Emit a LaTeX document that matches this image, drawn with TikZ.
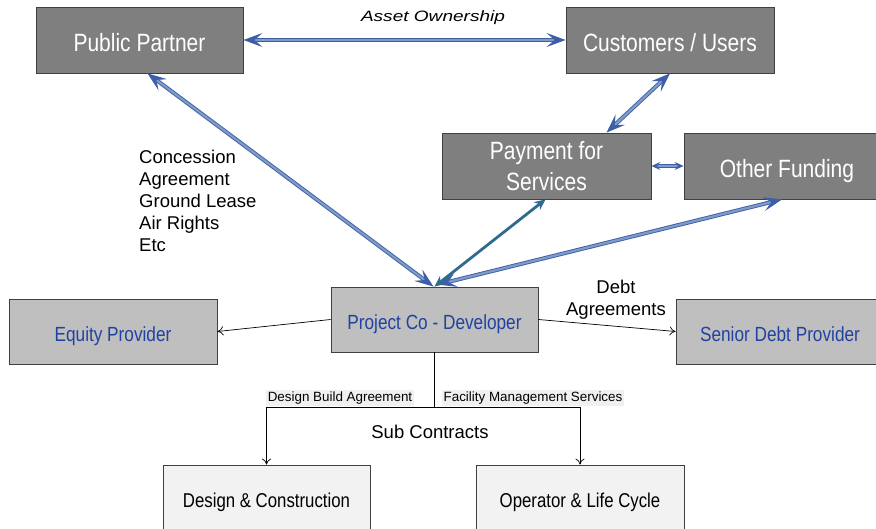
\documentclass[tikz,border=0pt]{standalone}
\usepackage{fontspec}
\setmainfont{Liberation Sans}
\newfontfamily\narrowfont[FakeStretch=0.84]{Liberation Sans}
\newfontfamily\wideitalic[FakeStretch=1.27]{Liberation Sans}
\usetikzlibrary{arrows.meta}
\definecolor{darkbox}{HTML}{7F7F7F}
\definecolor{lightbox}{HTML}{BFBFBF}
\definecolor{paleboxc}{HTML}{F2F2F2}
\definecolor{boxedge}{HTML}{404040}
\definecolor{bluetext}{HTML}{2142A0}
\definecolor{arrowdark}{HTML}{3D5FA8}
\definecolor{arrowlight}{HTML}{7F9CC6}
\definecolor{tealarrow}{HTML}{2F6B8E}
\definecolor{labelbg}{HTML}{F0F0F0}
\tikzset{
  darknode/.style={draw=boxedge, line width=0.8pt, fill=darkbox, text=white, inner sep=0pt,
    font=\narrowfont\fontsize{25}{31}\selectfont, align=center},
  darkone/.style={darknode, text height=23pt, text depth=0pt},
  midnode/.style={draw=boxedge, line width=0.8pt, fill=lightbox, text=bluetext, inner sep=0pt,
    font=\narrowfont\fontsize{20.5}{23}\selectfont, minimum width=207pt, minimum height=65pt,
    text height=19.5pt, text depth=0pt},
  palenode/.style={draw=boxedge, line width=0.8pt, fill=paleboxc, text=black, inner sep=0pt,
    font=\narrowfont\fontsize{20}{23}\selectfont, minimum width=207pt, minimum height=65pt,
    text height=19pt, text depth=0pt},
  dbl/.style={draw=arrowdark, line width=0.9pt, double=arrowlight, double distance=2.2pt,
    {Stealth[length=19pt,width=14pt,inset=8pt]}-{Stealth[length=19pt,width=14pt,inset=8pt]}},
  solidarrow/.style={draw=tealarrow, line width=2.8pt,
    {Stealth[length=11pt,width=10pt]}-{Stealth[length=11pt,width=10pt]}},
  thinarrow/.style={draw=black, line width=0.7pt, -{To[length=6pt,width=9pt]}},
  plainlabel/.style={font=\fontsize{18.5}{22}\selectfont, inner sep=0pt},
  smalllabel/.style={font=\fontsize{13.4}{15}\selectfont, fill=labelbg, inner sep=1.5pt},
}
\begin{document}
\begin{tikzpicture}[x=1pt,y=-1pt]
\useasboundingbox[fill=white] (0,0) rectangle (876,529);
% top row
\node[darkone, minimum width=207pt, minimum height=66pt] (pp) at (139.5,40) {Public Partner};
\node[darkone, minimum width=208pt, minimum height=66pt] (cu) at (670,40) {Customers / Users};
\node[darknode, minimum width=209pt, minimum height=66pt] (pay) at (546.5,166) {Payment for\\Services};
\node[darkone, minimum width=206pt, minimum height=66pt] (of) at (787,166) {Other Funding};
% middle row
\node[midnode] (pc) at (434.5,319.5) {Project Co - Developer};
\node[midnode, minimum width=208pt] (eq) at (113,331.5) {Equity Provider};
\node[midnode, minimum width=208pt] (sd) at (780,331.5) {Senior Debt Provider};
% bottom row
\node[palenode] (dc) at (266.5,497.5) {Design \& Construction};
\node[palenode, minimum width=208pt] (op) at (580,497.5) {Operator \& Life Cycle};
% double arrows
\draw[dbl] (pp.east) -- (cu.west);
\draw[dbl] ([xshift=8pt]pp.south) -- ([xshift=-1pt]pc.north);
\draw[dbl] (cu.south) -- ([xshift=60pt]pay.north);
\draw[dbl] ([xshift=-5pt]of.south) -- ([xshift=3pt,yshift=2pt]pc.north);
\draw[dbl, {Stealth[length=9pt,width=8pt,inset=3.5pt]}-{Stealth[length=9pt,width=8pt,inset=3.5pt]}] (pay.east) -- (of.west);
\draw[solidarrow] ([xshift=-1pt]pay.south) -- (pc.north);
% labels
\node[plainlabel, font=\wideitalic\itshape\fontsize{15}{17}\selectfont] (ao) at (433,18) {Asset Ownership};
\node[plainlabel, anchor=north west, align=left] (conc) at (139,150) {Concession\\Agreement\\Ground Lease\\Air Rights\\Etc};
% thin arrows
\draw[thinarrow] (pc.west) -- (eq.east);
\draw[thinarrow] (pc.east) -- (sd.west);
\node[plainlabel, align=center] (debt) at (616,300) {Debt\\Agreements};
% sub contracts
\coordinate (junction) at (434.5,407);
\draw[line width=0.7pt] (pc.south) -- (junction);
\draw[thinarrow] (junction) -| (dc.north);
\draw[thinarrow] (junction) -| (op.north);
\node[smalllabel] (dba) at (340,398) {Design Build Agreement};
\node[smalllabel] (fms) at (533,398) {Facility Management Services};
\node[plainlabel] (sub) at (430,432) {Sub Contracts};
\end{tikzpicture}
\end{document}
